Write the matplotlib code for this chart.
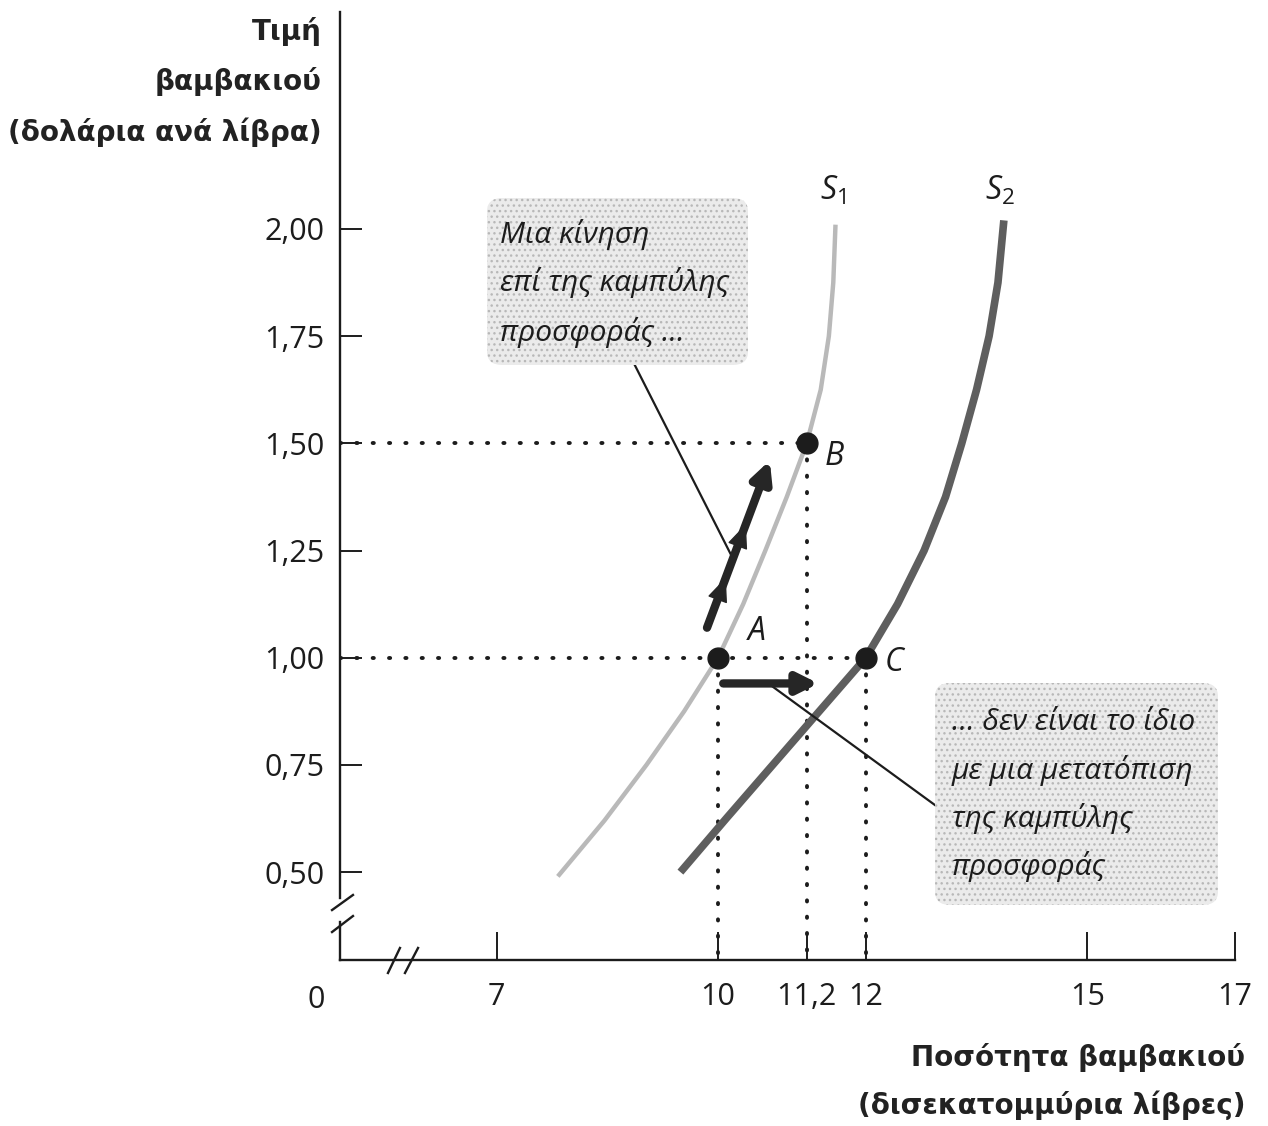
import matplotlib.pyplot as plt
import numpy as np
from matplotlib.patches import FancyBboxPatch, FancyArrowPatch

W, H = 1268, 1126

# supply curves: quantity (billions of pounds) vs price ($ per pound)
s1_qty = [7.83, 8.46, 9.03, 9.54, 10.0, 10.34, 10.64, 10.93, 11.2, 11.39, 11.5, 11.56, 11.59]
s1_price = [0.49, 0.62, 0.75, 0.875, 1.00, 1.125, 1.25, 1.375, 1.50, 1.625, 1.75, 1.875, 2.01]
s2_qty = [9.49, 10.11, 10.74, 11.37, 12.0, 12.43, 12.79, 13.08, 13.3, 13.5, 13.67, 13.79, 13.87]
s2_price = [0.50, 0.625, 0.75, 0.875, 1.00, 1.125, 1.25, 1.375, 1.50, 1.625, 1.75, 1.875, 2.02]

# equilibrium points
pt_names = ["A", "B", "C"]
pt_qty = [10.0, 11.2, 12.0]
pt_price = [1.00, 1.50, 1.00]

x_ticks = [7, 10, 11.2, 12, 15, 17]
x_labels = ["7", "10", "11,2", "12", "15", "17"]
y_ticks = [0.50, 0.75, 1.00, 1.25, 1.50, 1.75, 2.00]
y_labels = ["0,50", "0,75", "1,00", "1,25", "1,50", "1,75", "2,00"]

# movement along S1 and shift towards S2
move_start, move_end = (9.85, 1.07), (10.70, 1.46)
shift_start, shift_end = (10.07, 0.94), (11.36, 0.94)
note1_from, note1_to = (8.85, 1.69), (10.19, 1.235)
note2_from, note2_to = (12.94, 0.656), (10.68, 0.94)

note1 = ["Μια κίνηση", "επί της καμπύλης", "προσφοράς …"]
note2 = ["… δεν είναι το ίδιο", "με μια μετατόπιση", "της καμπύλης", "προσφοράς"]

SANS = ["Open Sans", "DejaVu Sans"]
INK = "#1c1c1c"

plt.rcParams["mathtext.fontset"] = "custom"
plt.rcParams["mathtext.it"] = "Open Sans:italic"
plt.rcParams["mathtext.rm"] = "Open Sans"


def px(x, y):
    return x / W, 1 - y / H


fig = plt.figure(figsize=(W / 100, H / 100), dpi=100)
ax = fig.add_axes([340 / W, 1 - 960 / H, 895 / W, 948 / H])
ax.set_xlim(4.88, 17.0)
ax.set_ylim(0.295, 2.506)
for s in ax.spines.values():
    s.set_visible(False)

# axes with break marks
T = ax.transAxes
axkw = dict(color=INK, lw=1.7, transform=T, clip_on=False)
ax.plot([0, 0], [1, 0.0654], **axkw)
ax.plot([0, 0], [0.040, 0], **axkw)
ax.plot([-0.0089, 0.0145], [0.0527, 0.0686], **axkw)
ax.plot([-0.0089, 0.0145], [0.0295, 0.0464], **axkw)
ax.plot([0, 1], [0, 0], **axkw)
ax.plot([0.0536, 0.067], [-0.0137, 0.0127], **axkw)
ax.plot([0.0726, 0.0872], [-0.0137, 0.0127], **axkw)

ax.set_xticks(x_ticks, x_labels)
ax.set_yticks(y_ticks, y_labels)
ax.tick_params(axis="y", direction="in", length=16, width=1.4, pad=11,
               labelsize=22, colors=INK)
ax.tick_params(axis="x", direction="in", length=20, width=1.4, pad=16,
               labelsize=22, colors=INK)
for lab in ax.get_xticklabels() + ax.get_yticklabels():
    lab.set_family(SANS)
ax.text(-24 / 895, -40 / 948, "0", transform=T, ha="center", va="center",
        fontsize=22, family=SANS, color=INK)

# dotted guides
dot = dict(color=INK, lw=2.8, linestyle=(0, (0.3, 3.9)), dash_capstyle="round")
x0, y0 = ax.get_xlim()[0], ax.get_ylim()[0]
ax.plot([x0, pt_qty[1]], [pt_price[1]] * 2, **dot)
ax.plot([x0, pt_qty[2]], [pt_price[2]] * 2, **dot)
for q, p in zip(pt_qty, pt_price):
    ax.plot([q, q], [p, y0], **dot)

# supply curves
ax.plot(s1_qty, s1_price, color="#b9b9b9", lw=3.2, solid_capstyle="butt",
        solid_joinstyle="round")
ax.plot(s2_qty, s2_price, color="#5e5e5e", lw=5.5, solid_capstyle="butt",
        solid_joinstyle="round")
ax.text(11.55, 2.09, "$S_1$", fontsize=23, ha="center", va="center", color=INK)
ax.text(13.82, 2.09, "$S_2$", fontsize=23, ha="center", va="center", color=INK)

# points
ax.plot(pt_qty, pt_price, "o", ms=15, color=INK, zorder=5)
for name, q, p, dx, dy in zip(pt_names, pt_qty, pt_price,
                              [0.52, 0.38, 0.38], [0.06, -0.03, -0.01]):
    ax.text(q + dx, p + dy, name, fontsize=23, fontstyle="italic",
            family=SANS, ha="center", va="center", color=INK)

# leader lines
ax.plot(*zip(note1_from, note1_to), color=INK, lw=1.6)
ax.plot(*zip(note2_from, note2_to), color=INK, lw=1.6)

# arrows: movement along S1 (thick shaft with extra heads), shift to S2
ax.add_patch(FancyArrowPatch(move_start, move_end, arrowstyle="-|>",
                             mutation_scale=30, lw=6, color="#262626",
                             shrinkA=0, shrinkB=0, zorder=4))
dq, dp = move_end[0] - move_start[0], move_end[1] - move_start[1]
for f in (0.3, 0.62):
    pa = (move_start[0] + (f - 0.15) * dq, move_start[1] + (f - 0.15) * dp)
    pb = (move_start[0] + f * dq, move_start[1] + f * dp)
    ax.add_patch(FancyArrowPatch(
        pa, pb, arrowstyle="-|>,head_length=0.7,head_width=0.3",
        mutation_scale=22, lw=1, color="#262626", shrinkA=0, shrinkB=0,
        zorder=4))
ax.add_patch(FancyArrowPatch(shift_start, shift_end, arrowstyle="-|>",
                             mutation_scale=30, lw=6, color="#262626",
                             shrinkA=0, shrinkB=0, zorder=4))

# shaded note boxes
for (bx0, by0, bx1, by1) in [(487, 198, 748, 365), (935, 683, 1218, 905)]:
    fx, fy = px(bx0, by1)
    fw, fh = (bx1 - bx0) / W, (by1 - by0) / H
    fig.patches.append(FancyBboxPatch(
        (fx, fy), fw, fh, boxstyle="round,pad=0,rounding_size=0.012",
        transform=fig.transFigure, facecolor="#ebebeb", edgecolor="#b8b8b8",
        lw=0, hatch="...", zorder=0))

for i, line in enumerate(note1):
    fig.text(*px(500, 234 + i * 49), line, fontsize=21.5, fontstyle="italic",
             family=SANS, ha="left", va="center", color=INK)
for i, line in enumerate(note2):
    fig.text(*px(952, 722 + i * 48), line, fontsize=21.5, fontstyle="italic",
             family=SANS, ha="left", va="center", color=INK)

# axis titles
for i, line in enumerate(["Τιμή", "βαμβακιού", "(δολάρια ανά λίβρα)"]):
    fig.text(*px(322, 32 + i * 50), line, fontsize=20, fontweight="bold",
             family=["DejaVu Sans"], ha="right", va="center", color="#222222")
for i, line in enumerate(["Ποσότητα βαμβακιού", "(δισεκατομμύρια λίβρες)"]):
    fig.text(*px(1245, 1057 + i * 48), line, fontsize=20, fontweight="bold",
             family=["DejaVu Sans"], ha="right", va="center", color="#222222")

fig.savefig("out.png", dpi=100)
